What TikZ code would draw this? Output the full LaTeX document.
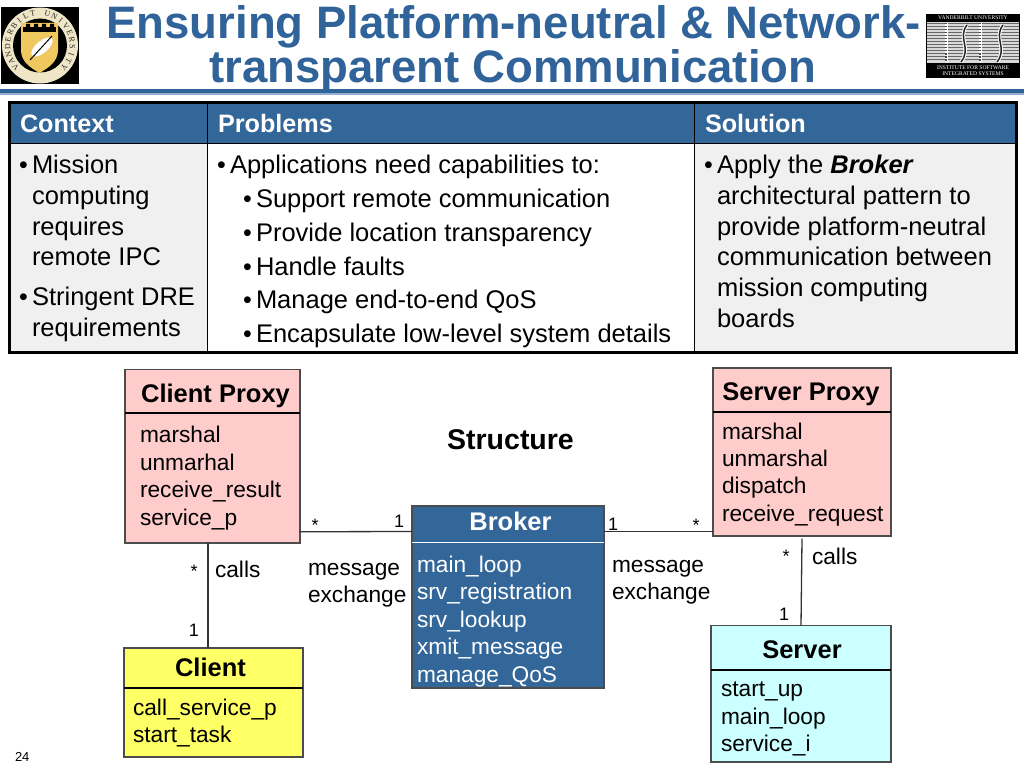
\documentclass[tikz,border=0pt]{standalone}
\usepackage{fontspec}
\setmainfont{Liberation Sans}
\newfontfamily\logoserif{Liberation Serif}
\definecolor{hdr}{HTML}{336699}
\definecolor{titleblue}{HTML}{2F6399}
\definecolor{rulelight}{HTML}{8FADCF}
\definecolor{cellgrey}{HTML}{F0F0F0}
\definecolor{pinkbox}{HTML}{FFCCCC}
\definecolor{yellowbox}{HTML}{FFFF66}
\definecolor{cyanbox}{HTML}{CCFFFF}
\definecolor{shield}{HTML}{F0C860}
\definecolor{ringc}{HTML}{EFE6C8}
\newcommand{\fs}[1]{\fontsize{#1}{#1}\selectfont}
\tikzset{
 x=1pt,y=-1pt,
 every node/.style={inner sep=0pt,outer sep=0pt},
 titletext/.style={font=\fs{45.5}\bfseries,text=titleblue,anchor=base},
 headtext/.style={font=\fs{25.2}\bfseries,text=white,anchor=base west},
 body/.style={font=\fs{25.5},anchor=base west,text=black},
 bul/.style={font=\fs{25},anchor=base west,text=black},
 umlbox/.style={draw=black!70,line width=1.2pt,minimum width=0pt},
 umlhead/.style={font=\fs{25.5}\bfseries,anchor=base,text=black},
 umltext/.style={font=\fs{22.7},anchor=base west,text=black},
 mult/.style={font=\fs{18},anchor=base,text=black},
 conn/.style={draw=black!80,line width=1.3pt},
 sep/.style={draw=black,line width=1.1pt},
 ringletter/.style={font=\logoserif\fs{8},text=black!85},
 isistext/.style={font=\logoserif\fs{5.6},text=white},
}
\newcommand{\umlbx}[6]{\node[umlbox,fill=#6,minimum width=#4-#2,minimum height=#5-#3] (#1) at ({(#2+#4)/2},{(#3+#5)/2}) {};}
\begin{document}
\begin{tikzpicture}
\useasboundingbox (0,0) rectangle (1024,768);
\fill[white] (0,0) rectangle (1024,768);

% title
\node[titletext] (t1) at (513.5,39) {Ensuring Platform-neutral \& Network-};
\node[titletext] (t2) at (513,82) {transparent Communication};
\fill[titleblue] (0,89) rectangle (1024,93);
\fill[rulelight] (0,93) rectangle (1024,95);

% Vanderbilt logo
\fill[black] (1,7) rectangle (79,84);
\fill[ringc] (40,45.5) circle (38);
\fill[black] (40,45.5) circle (27);
\fill[shield] (21,23) -- (58,23) -- (58,50) .. controls (58,62) and (48,68) .. (39.5,73) .. controls (31,68) and (21,62) .. (21,50) -- cycle;
\fill[black] (23,27) rectangle (56,32);
\fill[black] (26,24) rectangle (30,27) (34,24) rectangle (38,27) (42,24) rectangle (46,27) (50,24) rectangle (54,27);
\fill[white,rotate around={40:(42,47)}] (42,47) ellipse (13 and 6);
\draw[black,line width=1pt] (30,60) -- (52,36);
\foreach \ch [count=\i] in {V,A,N,D,E,R,B,I,L,T,{},U,N,I,V,E,R,S,I,T,Y}{
  \pgfmathsetmacro{\ang}{222-(\i-1)*264/20}
  \node[ringletter,rotate=\ang-90] (ring\i) at ({40+32.5*cos(\ang)},{45.5-32.5*sin(\ang)}) {\ch};
}

% ISIS logo
\fill[black] (926,14) rectangle (1020,78);
\fill[black!15] (927,22) rectangle (1019,63);
\foreach \yy in {23.5,26.5,...,62}{\draw[black!60,line width=1.6pt] (927,\yy) -- (1019,\yy);}
\foreach \xx in {946,980}{
  \draw[white,line width=3pt] (\xx,23) -- (\xx,62);
  \draw[black!70,line width=1.6pt,dash pattern=on 1.5pt off 1.5pt] (\xx,23) -- (\xx,62);}
\foreach \xx in {964,1000}{
  \draw[white,line width=3.5pt] (\xx+3,25) .. controls (\xx-7,38) and (\xx+8,48) .. (\xx-3,62);
  \draw[black!85,line width=1.5pt] (\xx+3,25) .. controls (\xx-7,38) and (\xx+8,48) .. (\xx-3,62);}
\node[isistext] (isis1) at (973,18) {VANDERBILT UNIVERSITY};
\node[isistext] (isis2) at (973,68) {INSTITUTE FOR SOFTWARE};
\node[isistext] (isis3) at (973,74) {INTEGRATED SYSTEMS};

% table
\fill[cellgrey] (8,143) rectangle (207,353);
\fill[white] (207,143) rectangle (694,353);
\fill[cellgrey] (694,143) rectangle (1017,353);
\fill[hdr] (8,102) rectangle (1017,143);
\draw[black,line width=1pt] (8,143) -- (1017,143);
\draw[black,line width=1pt] (207,102) -- (207,353);
\draw[black,line width=1pt] (694,102) -- (694,353);
\draw[black,line width=3pt] (9,102.5) rectangle (1016,352.5);

\node[headtext] (h1) at (20,132) {Context};
\node[headtext] (h2) at (218,132) {Problems};
\node[headtext] (h3) at (705,132) {Solution};

\node[bul] (b1) at (19,173) {•};
\node[body] (c1a) at (32,173) {Mission};
\node[body] (c1b) at (32,204) {computing};
\node[body] (c1c) at (32,235) {requires};
\node[body] (c1d) at (32,265) {remote IPC};
\node[bul] (b2) at (19,305) {•};
\node[body] (c2a) at (32,305) {Stringent DRE};
\node[body] (c2b) at (32,336) {requirements};

\node[bul] (b3) at (217,173) {•};
\node[body] (p0) at (230,173) {Applications need capabilities to:};
\node[bul] (b4) at (243,207) {•};
\node[body] (p1) at (256,207) {Support remote communication};
\node[bul] (b5) at (243,241) {•};
\node[body] (p2) at (256,241) {Provide location transparency};
\node[bul] (b6) at (243,275) {•};
\node[body] (p3) at (256,275) {Handle faults};
\node[bul] (b7) at (243,308) {•};
\node[body] (p4) at (256,308) {Manage end-to-end QoS};
\node[bul] (b8) at (243,342) {•};
\node[body] (p5) at (256,342) {Encapsulate low-level system details};

\node[bul] (b9) at (704,173) {•};
\node[body] (s1) at (717,173) {Apply the \textbf{\textit{Broker}}};
\node[body] (s2) at (717,204) {architectural pattern to};
\node[body] (s3) at (717,235) {provide platform-neutral};
\node[body] (s4) at (717,265) {communication between};
\node[body] (s5) at (717,296) {mission computing};
\node[body] (s6) at (717,327) {boards};

% boxes
\umlbx{cp}{125}{369.5}{300}{543}{pinkbox}
\umlbx{sp}{713}{368}{891}{536}{pinkbox}
\umlbx{bk}{412}{506}{604}{688}{hdr}
\umlbx{cl}{124}{648}{303}{757}{yellowbox}
\umlbx{sv}{711}{625.5}{891}{762}{cyanbox}

% connectors
\draw[conn] ([yshift=-75.5pt]cp.east) -- ([yshift=65.5pt]bk.west);
\draw[conn] ([yshift=65.5pt]bk.east) -- ([yshift=-79.5pt]sp.west);
\draw[conn] ([xshift=-4.5pt]cp.south) -- ([xshift=-5.5pt]cl.north);
\draw[conn] ([xshift=0pt,yshift=-2.5pt]sp.south) -- (sv.north);

% separators
\draw[sep] (cp.west |- 0,413) -- (cp.east |- 0,413);
\draw[sep] (sp.west |- 0,412) -- (sp.east |- 0,412);
\draw[draw=white,line width=1pt] (bk.west |- 0,542.5) -- (bk.east |- 0,542.5);
\draw[sep] (cl.west |- 0,688) -- (cl.east |- 0,688);
\draw[sep] (sv.west |- 0,670) -- (sv.east |- 0,670);

% box texts
\node[umlhead] (cph) at (215.5,402) {Client Proxy};
\node[umltext] (cp1) at (140,442) {marshal};
\node[umltext] (cp2) at (140,470) {unmarhal};
\node[umltext] (cp3) at (140,497) {receive\_result};
\node[umltext] (cp4) at (140,525) {service\_p};

\node[umlhead] (sph) at (801,400) {Server Proxy};
\node[umltext] (sp1) at (722,439) {marshal};
\node[umltext] (sp2) at (722,466) {unmarshal};
\node[umltext] (sp3) at (722,493) {dispatch};
\node[umltext] (sp4) at (722,521) {receive\_request};

\node[umlhead,text=white] (bkh) at (510.5,530.5) {Broker};
\node[umltext,text=white] (bk1) at (417,572) {main\_loop};
\node[umltext,text=white] (bk2) at (417,599) {srv\_registration};
\node[umltext,text=white] (bk3) at (417,627) {srv\_lookup};
\node[umltext,text=white] (bk4) at (417,654) {xmit\_message};
\node[umltext,text=white] (bk5) at (417,682) {manage\_QoS};

\node[umlhead] (clh) at (210.5,676) {Client};
\node[umltext] (cl1) at (133,715) {call\_service\_p};
\node[umltext] (cl2) at (133,742) {start\_task};

\node[umlhead] (svh) at (802,658) {Server};
\node[umltext] (sv1) at (721,696.5) {start\_up};
\node[umltext] (sv2) at (721,724) {main\_loop};
\node[umltext] (sv3) at (721,751) {service\_i};

% labels
\node[font=\fs{28.5}\bfseries,anchor=base,text=black] (st) at (510.5,449) {Structure};
\node[umltext] (m1a) at (308,575) {message};
\node[umltext] (m1b) at (308,602) {exchange};
\node[umltext] (m2a) at (612,572) {message};
\node[umltext] (m2b) at (612,599) {exchange};
\node[umltext] (cal1) at (215,577) {calls};
\node[umltext] (cal2) at (812,564) {calls};
\node[mult] (s1m) at (315,531) {*};
\node[mult] (o1m) at (399,527) {1};
\node[mult] (o2m) at (613,530) {1};
\node[mult] (s2m) at (696,531) {*};
\node[mult] (s3m) at (194,577) {*};
\node[mult] (o3m) at (194,636) {1};
\node[mult] (s4m) at (786,562) {*};
\node[mult] (o4m) at (784,620) {1};
\node[font=\fs{13},anchor=base west,text=black] (pg) at (15,761) {24};
\end{tikzpicture}
\end{document}
